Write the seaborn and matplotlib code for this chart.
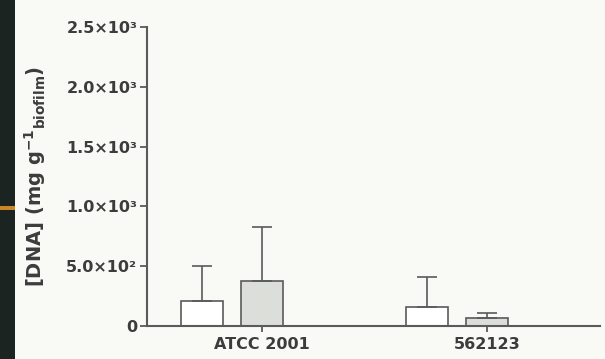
import matplotlib
matplotlib.use("Agg")
import matplotlib.pyplot as plt
import seaborn as sns
import pandas as pd
import numpy as np
from matplotlib.patches import Rectangle

# ---- data ----
strains = ["ATCC 2001", "562123"]
groups = ["condition A", "condition B", "condition C"]
values_a = [210, 160]
errors_a = [290, 250]
values_b = [380, 65]
errors_b = [450, 45]
yticks = [0, 500, 1000, 1500, 2000, 2500]
ytick_labels = ["0", "5.0×10²", "1.0×10³", "1.5×10³", "2.0×10³", "2.5×10³"]

df = pd.DataFrame({
    "strain": strains * 2,
    "group": [groups[0]] * 2 + [groups[1]] * 2,
    "value": values_a + values_b,
})

sns.set_style("white")
plt.rcParams["font.family"] = ["DejaVu Sans"]

bg = "#f9f9f6"
fig = plt.figure(figsize=(6.05, 3.59), dpi=100, facecolor=bg)
ax = fig.add_axes([0.243, 0.092, 0.749, 0.833])
ax.set_facecolor(bg)

edge = "#5a5a5a"
sns.barplot(data=df, x="strain", y="value", hue="group", order=strains,
            hue_order=groups, palette=["white", "#dcdfd8", "white"],
            edgecolor=edge, linewidth=1.2, gap=0.3, errorbar=None,
            legend=False, ax=ax)

errs = [errors_a, errors_b]
vals = [values_a, values_b]
for ci, cont in enumerate(ax.containers[:2]):
    xs = [p.get_x() + p.get_width() / 2 for p in cont.patches]
    ax.errorbar(xs, vals[ci], yerr=[np.zeros(len(xs)), errs[ci]], fmt="none",
                ecolor=edge, elinewidth=1.2, capsize=7.5, capthick=1.2,
                zorder=1)

ax.set_xlim(-0.511, 1.502)
ax.set_ylim(0, 2500)
ax.set_yticks(yticks)
ax.set_yticklabels(ytick_labels, fontsize=11.5, fontweight="bold", color="#3c3c3c")
ax.set_xticks([0, 1])
ax.set_xticklabels(strains, fontsize=11.5, fontweight="bold", color="#3c3c3c")
ax.set_xlabel("")
ax.set_ylabel(r"[DNA] (mg g$^{\mathbf{-1}}$$_{\mathbf{biofilm}}$)", fontsize=14,
              fontweight="bold", color="#3c3c3c")
ax.yaxis.set_label_coords(-0.218, 0.5)

for s in ["top", "right"]:
    ax.spines[s].set_visible(False)
for s in ["left", "bottom"]:
    ax.spines[s].set_color(edge)
    ax.spines[s].set_linewidth(1.5)
ax.tick_params(axis="y", direction="out", length=5, width=1.3, color=edge, left=True, pad=2)
ax.tick_params(axis="x", direction="out", length=4, width=1.3, color=edge, bottom=True, pad=4)

# dark strip on the left edge of the screenshot
fig.patches.append(Rectangle((0, 0), 15 / 605, 1, transform=fig.transFigure,
                             facecolor="#1c2421", edgecolor="none", zorder=0))
fig.patches.append(Rectangle((0, 1 - 210 / 359), 15 / 605, 4 / 359,
                             transform=fig.transFigure, facecolor="#c8882a",
                             edgecolor="none", zorder=1))

fig.savefig("out.png", dpi=100, facecolor=bg)
